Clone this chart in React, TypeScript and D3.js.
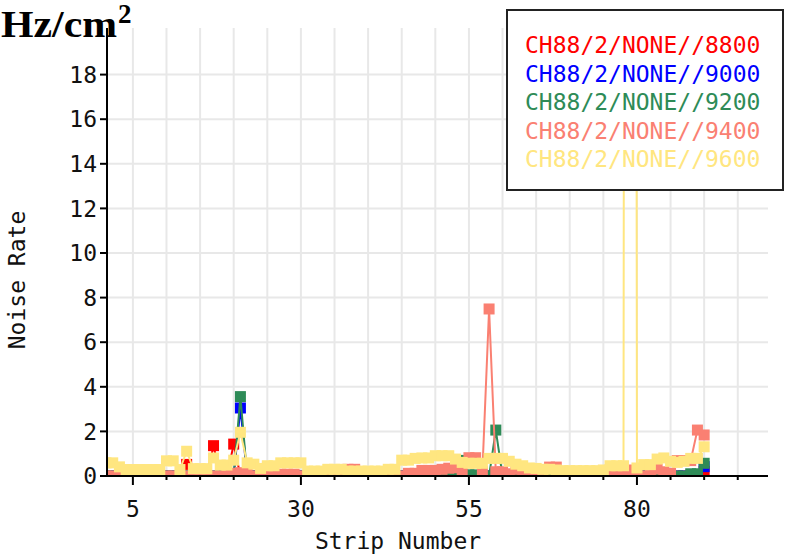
import React from 'react';
import * as d3 from 'd3';

// strip numbers on the x axis
const strips = d3.range(1, 91);

// noise rate per strip, one array per high voltage setting
const rate8800 = [
  0, 0, 0, 0, 0, 0, 0, 0, 0, 0,
  0, 0, 0.52, 0, 0, 0, 1.36, 0, 0, 1.43,
  0, 0, 0, 0, 0, 0, 0, 0, 0, 0,
  0, 0, 0, 0, 0, 0, 0, 0, 0, 0,
  0, 0, 0, 0, 0, 0, 0, 0, 0, 0,
  0, 0, 0, 0, 0, 0, 0, 0, 0, 0,
  0, 0, 0, 0, 0, 0, 0, 0, 0, 0,
  0, 0, 0, 0, 0, 0, 0, 0, 0, 0,
  0, 0, 0, 0, 0, 0, 0, 0, 0, 0.2,
];
const rate9000 = [
  0, 0, 0, 0, 0, 0, 0, 0, 0, 0,
  0, 0, 0, 0, 0, 0, 0, 0, 0, 0,
  3.05, 0, 0, 0, 0, 0, 0, 0, 0, 0,
  0, 0, 0, 0, 0, 0, 0, 0, 0, 0,
  0, 0, 0, 0, 0, 0, 0, 0, 0, 0,
  0, 0, 0, 0, 0, 0, 0, 0, 0, 0,
  0, 0, 0, 0, 0, 0, 0, 0, 0, 0,
  0, 0, 0, 0, 0, 0, 0, 0, 0, 0,
  0, 0, 0, 0, 0, 0, 0, 0, 0, 0.42,
];
const rate9200 = [
  0, 0, 0, 0, 0, 0, 0, 0, 0, 0,
  0, 0, 0, 0, 0, 0, 0, 0, 0, 0,
  3.56, 0, 0, 0, 0, 0, 0, 0, 0, 0,
  0, 0, 0, 0, 0, 0, 0, 0, 0, 0,
  0, 0, 0, 0, 0, 0, 0, 0, 0, 0,
  0, 0, 0, 0.7, 0.05, 0.05, 0, 0, 2.06, 0,
  0, 0, 0, 0, 0, 0, 0, 0, 0, 0,
  0, 0, 0, 0, 0, 0, 0, 0, 0, 0,
  0, 0, 0, 0, 0, 0, 0, 0.1, 0.1, 0.57,
];
const rate9400 = [
  0, 0, 0.05, 0, 0, 0, 0, 0, 0, 0,
  0, 0, 0, 0, 0, 0, 0, 0, 0.1, 0.12,
  0.15, 0.12, 0, 0, 0, 0.08, 0.08, 0.08, 0.08, 0,
  0, 0, 0, 0, 0, 0, 0.3, 0.3, 0, 0,
  0, 0, 0, 0, 0, 0.12, 0.12, 0.25, 0.25, 0.25,
  0.3, 0.35, 0.37, 0.2, 0.82, 0.82, 0.19, 7.49, 0.19, 0.19,
  0.1, 0.3, 0.1, 0, 0, 0, 0.4, 0.4, 0, 0,
  0, 0, 0, 0, 0, 0.27, 0.27, 0.27, 0.27, 0,
  0, 0.19, 0.31, 0.19, 0.12, 0.69, 0.69, 0.69, 2.06, 1.84,
];
const rate9600 = [
  0.59, 0.59, 0.41, 0.29, 0.29, 0.29, 0.29, 0.29, 0.29, 0.68,
  0.68, 0.29, 1.11, 0.33, 0.33, 0.33, 0.81, 0.49, 0.49, 0.71,
  1.96, 0.59, 0.53, 0.34, 0.46, 0.46, 0.59, 0.59, 0.59, 0.59,
  0.22, 0.22, 0.22, 0.3, 0.3, 0.3, 0.22, 0.22, 0.22, 0.22,
  0.22, 0.22, 0.3, 0.3, 0.71, 0.71, 0.79, 0.81, 0.81, 0.91,
  0.91, 0.91, 0.76, 0.61, 0.57, 0.57, 0.57, 0.79, 0.79, 0.79,
  0.66, 0.53, 0.46, 0.36, 0.34, 0.3, 0.3, 0.27, 0.24, 0.24,
  0.24, 0.24, 0.24, 0.24, 0.27, 0.46, 0.46, 0.46, 300, 0.36,
  0.51, 0.51, 0.76, 0.81, 0.66, 0.61, 0.66, 0.79, 0.79, 1.31,
];

const legendLabels = [
  'CH88/2/NONE//8800',
  'CH88/2/NONE//9000',
  'CH88/2/NONE//9200',
  'CH88/2/NONE//9400',
  'CH88/2/NONE//9600',
];
const colors = ['#ff0000', '#0000ff', '#2e8b57', '#fa8072', '#ffe680'];
const xMajorTicks = [5, 30, 55, 80];
const xGridTicks = d3.range(5, 100, 5);
const yTicks = d3.range(0, 20, 2);

const mono = 'DejaVu Sans Mono';

export default function App() {
  const allRates = [rate8800, rate9000, rate9200, rate9400, rate9600];

  const x = d3.scaleLinear().domain([1, 99.5]).range([106, 768]);
  const y = d3.scaleLinear().domain([0, 20]).range([476, 30]);
  const plotLeft = 107, plotRight = 768, plotTop = 28, plotBottom = 476;

  const line = d3.line<number>()
    .x((_, i) => x(strips[i]))
    .y(d => y(d));

  const mk = 11;

  return (
    <div style={{ position: 'absolute', left: 0, top: 0 }}>
      <svg width={786} height={554} style={{ display: 'block', background: '#fff' }}>
        <defs>
          <clipPath id="plot">
            <rect x={plotLeft} y={plotTop} width={plotRight - plotLeft} height={plotBottom - plotTop} />
          </clipPath>
        </defs>

        {/* grid */}
        <g stroke="#e8e8e8" strokeWidth={2}>
          {xGridTicks.map(t => (
            <line key={'gx' + t} x1={x(t)} x2={x(t)} y1={plotTop} y2={plotBottom} />
          ))}
          {yTicks.filter(t => t > 0).map(t => (
            <line key={'gy' + t} x1={plotLeft} x2={plotRight} y1={y(t)} y2={y(t)} />
          ))}
        </g>

        {/* series */}
        <g clipPath="url(#plot)">
          {allRates.map((rates, si) => (
            <g key={si}>
              <path d={line(rates) || ''} fill="none" stroke={colors[si]} strokeWidth={2} />
              {rates.map((v, i) => (
                <rect key={i} x={x(strips[i]) - mk / 2} y={y(v) - mk / 2} width={mk} height={mk} fill={colors[si]} />
              ))}
            </g>
          ))}
        </g>

        {/* axes */}
        <g stroke="#000" strokeWidth={2}>
          <line x1={plotLeft} x2={plotLeft} y1={plotTop} y2={plotBottom + 1} />
          <line x1={plotLeft} x2={plotRight} y1={plotBottom} y2={plotBottom} />
          {yTicks.map(t => (
            <line key={'ty' + t} x1={plotLeft - 7} x2={plotLeft} y1={y(t)} y2={y(t)} />
          ))}
          {xGridTicks.map(t => (
            <line key={'tx' + t} x1={x(t)} x2={x(t)} y1={plotBottom}
              y2={plotBottom + (xMajorTicks.includes(t) ? 9 : 4)} />
          ))}
        </g>

        <g fontFamily={mono} fontSize={23} fill="#111">
          {yTicks.map(t => (
            <text key={'ly' + t} x={97} y={y(t)} dy="0.36em" textAnchor="end">{t}</text>
          ))}
          {xMajorTicks.map(t => (
            <text key={'lx' + t} x={x(t)} y={517} textAnchor="middle">{t}</text>
          ))}
          <text x={398} y={549} textAnchor="middle">Strip Number</text>
          <text transform="translate(25,280) rotate(-90)" textAnchor="middle">Noise Rate</text>
        </g>

        {/* unit title */}
        <text x={1} y={37} fontFamily="Liberation Serif" fontWeight="bold" fontSize={38}
          textLength={116} lengthAdjust="spacingAndGlyphs" fill="#000">
          Hz/cm
        </text>
        <text x={118} y={23} fontFamily="Liberation Serif" fontWeight="bold" fontSize={27} fill="#000">2</text>

        {/* legend */}
        <rect x={507} y={10} width={276} height={180} fill="#fff" stroke="#222" strokeWidth={2} />
        <g fontFamily={mono} fontSize={23}>
          {legendLabels.map((l, i) => (
            <text key={l} x={525} y={53 + i * 28.5} fill={colors[i]}>{l}</text>
          ))}
        </g>
      </svg>
    </div>
  );
}
